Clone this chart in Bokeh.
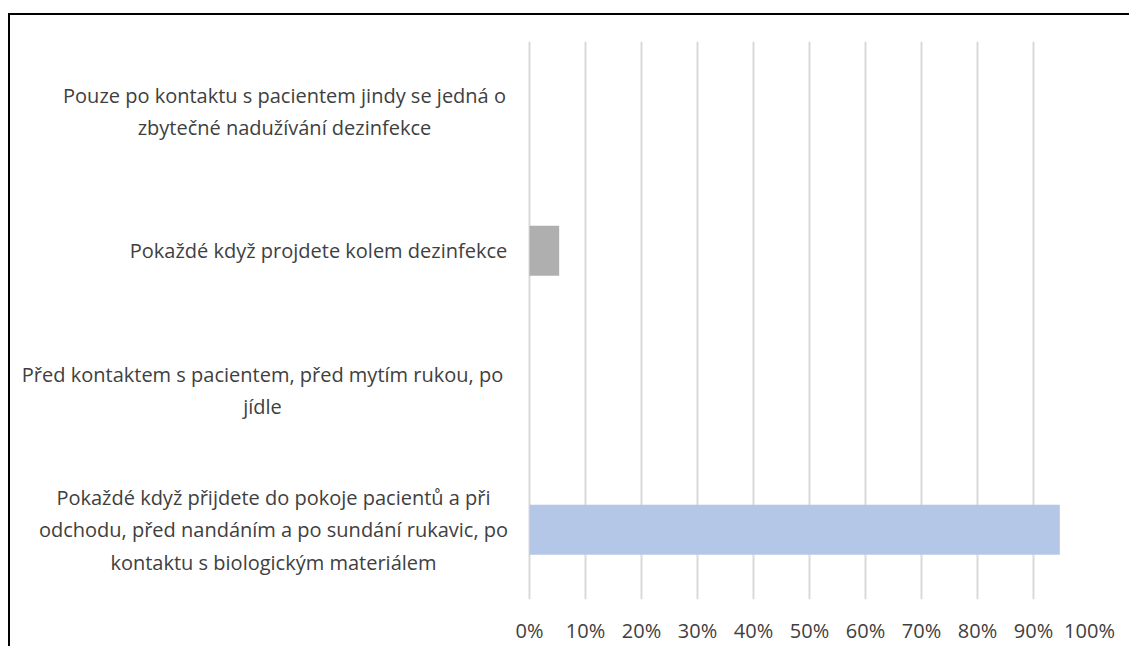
from bokeh.plotting import figure
from bokeh.layouts import column
from bokeh.models import Range1d, FactorRange, FixedTicker, NumeralTickFormatter, ColumnDataSource
from bokeh.core.properties import value
from bokeh.embed import file_html
from bokeh.resources import INLINE

# ---- data ----
categories = [
    "Pouze po kontaktu s pacientem jindy se jedná o\nzbytečné nadužívání dezinfekce",
    "Pokaždé když projdete kolem dezinfekce",
    "Před kontaktem s pacientem, před mytím rukou, po\njídle",
    "Pokaždé když přijdete do pokoje pacientů a při\nodchodu, před nandáním a po sundání rukavic, po\nkontaktu s biologickým materiálem",
]
shares = [0.0, 0.053, 0.0, 0.947]
bar_colors = ["#B4C7E7", "#AFAFAF", "#B4C7E7", "#B4C7E7"]
tick_values = [0.0, 0.1, 0.2, 0.3, 0.4, 0.5, 0.6, 0.7, 0.8, 0.9, 1.0]

# ---- layout ----
W, H = 1119, 631
BORDER_R = 40
PX_PER_UNIT = 560.0
frame_w = W - BORDER_R
x_start = 1.0 - frame_w / PX_PER_UNIT
label_offsets = [-245, -211, -267, -256]  # px from the 0% line to the centre of each label block

FONT = "Open Sans"
TXT = "#404040"

p = figure(
    width=W, height=H,
    x_range=Range1d(x_start, 1.0),
    y_range=FactorRange(factors=list(reversed(categories)), range_padding=0),
    output_backend="svg", toolbar_location=None,
    min_border_left=0, min_border_right=BORDER_R,
    min_border_top=26, min_border_bottom=46,
)
p.outline_line_color = None
p.background_fill_color = "white"
p.border_fill_color = "white"

src = ColumnDataSource(dict(cat=categories, val=shares, color=bar_colors, off=label_offsets,
                            zero=[0.0] * len(categories)))

p.hbar(y="cat", left="zero", right="val", height=0.36, source=src,
       fill_color="color", line_color=None)

p.text(x="zero", y="cat", text="cat", x_offset="off", source=src,
       text_align="center", text_baseline="middle",
       text_font=value(FONT), text_font_size="20px", text_color=TXT,
       text_line_height=1.2)

p.yaxis.visible = False
p.ygrid.grid_line_color = None

ax = p.xaxis[0]
ax.ticker = FixedTicker(ticks=tick_values)
ax.formatter = NumeralTickFormatter(format="0%")
ax.axis_line_color = None
ax.major_tick_line_color = None
ax.minor_tick_line_color = None
ax.major_tick_out = 0
ax.major_label_standoff = 17
ax.major_label_text_font = FONT
ax.major_label_text_font_size = "20px"
ax.major_label_text_color = TXT

g = p.xgrid[0]
g.ticker = FixedTicker(ticks=tick_values)
g.grid_line_color = "#D9D9D9"
g.grid_line_width = 2

# chart-area border: only its top and left edges fall inside the window
layout = column(p, width=W + 2, height=H + 2,
                styles={"margin-top": "13px", "margin-left": "8px", "overflow": "hidden",
                        "border-top": "2px solid black", "border-left": "2px solid black"})

open("out.html", "w").write(file_html(layout, INLINE))
